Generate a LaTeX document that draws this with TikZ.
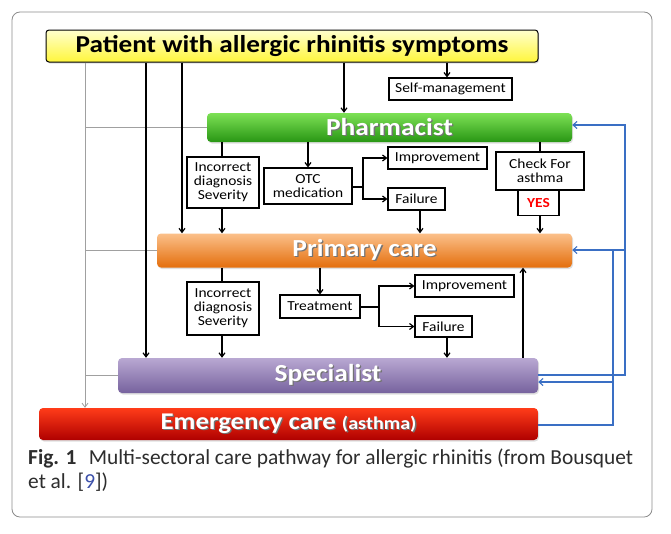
\documentclass[tikz,border=0pt]{standalone}
\usepackage{fontspec}
\setmainfont{Carlito}
\newfontfamily\wide[FakeStretch=1.12]{Carlito}
\usetikzlibrary{arrows.meta,calc,shadows}
\definecolor{blueline}{RGB}{58,111,196}
\definecolor{grayline}{RGB}{160,160,160}
\definecolor{capgray}{RGB}{45,45,45}
\definecolor{refblue}{RGB}{60,80,170}
\newcommand{\shtxt}[1]{\makebox[0pt][l]{\hspace{1.3pt}\raisebox{-1.3pt}{\color{black!55}#1}}#1}
\tikzset{
  box/.style={draw=black, line width=1.1pt, fill=white, inner sep=0pt, align=center,
    font=\wide\fontsize{13.8}{14}\selectfont},
  band/.style={rounded corners=4pt, inner sep=0pt, text=white,
    font=\wide\bfseries\fontsize{24.5}{26}\selectfont,
    drop shadow={opacity=0.25, shadow xshift=1pt, shadow yshift=-1.5pt}},
  arr/.style={-{Straight Barb[length=4pt,width=6pt]}, line width=1.2pt},
  ln/.style={line width=1.2pt},
  gl/.style={draw=grayline, line width=0.8pt},
  bl/.style={draw=blueline, line width=1.1pt},
  blarr/.style={bl, -{Straight Barb[length=4pt,width=7pt]}}
}
\begin{document}
\begin{tikzpicture}[x=1pt,y=-1pt]
\useasboundingbox (0,0) rectangle (671,533);
\fill[white] (0,0) rectangle (671,533);
\draw[draw=black!45, line width=0.8pt, rounded corners=8pt] (12,12) rectangle (652,517);

% main bands
\node[band, draw=black, line width=1pt, text=black, rounded corners=3pt,
      top color={rgb,255:red,255;green,255;blue,205}, bottom color={rgb,255:red,255;green,246;blue,60},
      minimum width=492pt, minimum height=32pt, font=\wide\bfseries\fontsize{24.3}{26}\selectfont]
      (yel) at (292,46) {Patient with allergic rhinitis symptoms};
\node[band, top color={rgb,255:red,125;green,225;blue,85}, bottom color={rgb,255:red,40;green,150;blue,20},
      minimum width=365pt, minimum height=29pt] (ph) at (389.5,127.5) {\shtxt{Pharmacist}};
\node[band, top color={rgb,255:red,251;green,192;blue,138}, bottom color={rgb,255:red,228;green,110;blue,12},
      minimum width=415pt, minimum height=34pt] (prim) at (364.5,250.5) {\shtxt{Primary care}};
\node[band, top color={rgb,255:red,185;green,168;blue,210}, bottom color={rgb,255:red,118;green,98;blue,158},
      minimum width=420pt, minimum height=35pt] (spec) at (328,375.5) {\shtxt{Specialist}};
\node[band, top color={rgb,255:red,255;green,60;blue,25}, bottom color={rgb,255:red,175;green,0;blue,0},
      minimum width=499pt, minimum height=32pt, font=\wide\bfseries\fontsize{24}{26}\selectfont]
      (em) at (288.5,424) {\shtxt{Emergency care} \shtxt{\fontsize{18}{20}\selectfont(asthma)}};

% small boxes
\node[box, minimum width=123pt, minimum height=22pt] (sm) at (450.5,89) {Self-management};
\node[box, minimum width=72pt, minimum height=51pt] (inc1) at (223,182.5) {Incorrect\\diagnosis\\Severity};
\node[box, minimum width=88pt, minimum height=36pt] (otc) at (308,186) {OTC\\medication};
\node[box, minimum width=99pt, minimum height=22pt] (imp1) at (437.5,158) {Improvement};
\node[box, minimum width=57pt, minimum height=22pt] (fail1) at (416.5,199) {Failure};
\node[box, minimum width=88pt, minimum height=38pt] (chk) at (540,171) {Check For\\asthma};
\node[box, minimum width=41pt, minimum height=25pt, anchor=north, text=red,
      font=\wide\bfseries\fontsize{13.8}{14}\selectfont] (yes) at (538.5,190) {YES};
\node[box, minimum width=72pt, minimum height=53pt] (inc2) at (223,308.5) {Incorrect\\diagnosis\\Severity};
\node[box, minimum width=80pt, minimum height=23pt] (tr) at (320,306.5) {Treatment};
\node[box, minimum width=99pt, minimum height=22pt] (imp2) at (464.5,286) {Improvement};
\node[box, minimum width=57pt, minimum height=21pt] (fail2) at (443.5,326.5) {Failure};

% gray lines on the left
\draw[gl, -{Straight Barb[length=4pt,width=6pt]}] (yel.south -| 85,0) -- (em.north -| 85,0);
\draw[gl] (ph.west) -- (ph.west -| 85,0);
\draw[gl] (prim.west) -- (prim.west -| 85,0);
\draw[gl] (spec.west) -- (spec.west -| 85,0);

% black connectors
\draw[arr] (yel.south -| 447,0) -- (sm.north -| 447,0);
\draw[arr] (yel.south -| 344,0) -- (ph.north -| 344,0);
\draw[arr] (yel.south -| 146,0) -- (spec.north -| 146,0);
\draw[arr] (yel.south -| 182,0) -- (prim.north -| 182,0);
\draw[ln] (ph.south -| 222,0) -- (inc1.north -| 222,0);
\draw[arr] (inc1.south -| 222,0) -- (prim.north -| 222,0);
\draw[arr] (ph.south -| 308,0) -- (otc.north -| 308,0);
\coordinate (b1) at (363,187);
\draw[ln] (otc.east |- b1) -- (b1);
\draw[arr] (b1) |- (imp1.west);
\draw[arr] (b1) |- (fail1.west);
\draw[arr] (fail1.south -| 420,0) -- (prim.north -| 420,0);
\draw[ln] (ph.south -| 540,0) -- (chk.north -| 540,0);
\draw[arr] (yes.south -| 540,0) -- (prim.north -| 540,0);
\draw[ln] (prim.south -| 222,0) -- (inc2.north -| 222,0);
\draw[arr] (inc2.south -| 222,0) -- (spec.north -| 222,0);
\draw[arr] (prim.south -| 320,0) -- (tr.north -| 320,0);
\coordinate (b2) at (379,307);
\draw[ln] (tr.east |- b2) -- (b2);
\draw[arr] (b2) |- (imp2.west);
\draw[arr] (b2) |- (fail2.west);
\draw[arr] (fail2.south -| 447,0) -- (spec.north -| 447,0);
\draw[arr] (spec.north -| 523,0) -- (prim.south -| 523,0);

% blue feedback lines
\coordinate (o1) at (625,375);
\coordinate (o2) at (625,125);
\coordinate (i1) at (613,425);
\coordinate (i2) at (613,250);
\draw[blarr] (spec.east |- o1) -- (o1) -- (o2) -- (ph.east |- o2);
\draw[blarr] (o1 |- i2) -- (prim.east |- i2);
\draw[bl] (em.east |- i1) -- (i1) -- (i2);
\draw[blarr] (i1 |- 0,382) -- (spec.east |- 0,382);

% caption
\node[anchor=north west, inner sep=0pt, align=left, text=capgray,
      font=\fontsize{21.4}{24}\selectfont] (cap) at (28,449)
  {\textbf{Fig. 1}\hspace{0.35em} Multi-sectoral care pathway for allergic rhinitis (from Bousquet\\
   et al. [{\color{refblue}9}])};
\end{tikzpicture}
\end{document}
